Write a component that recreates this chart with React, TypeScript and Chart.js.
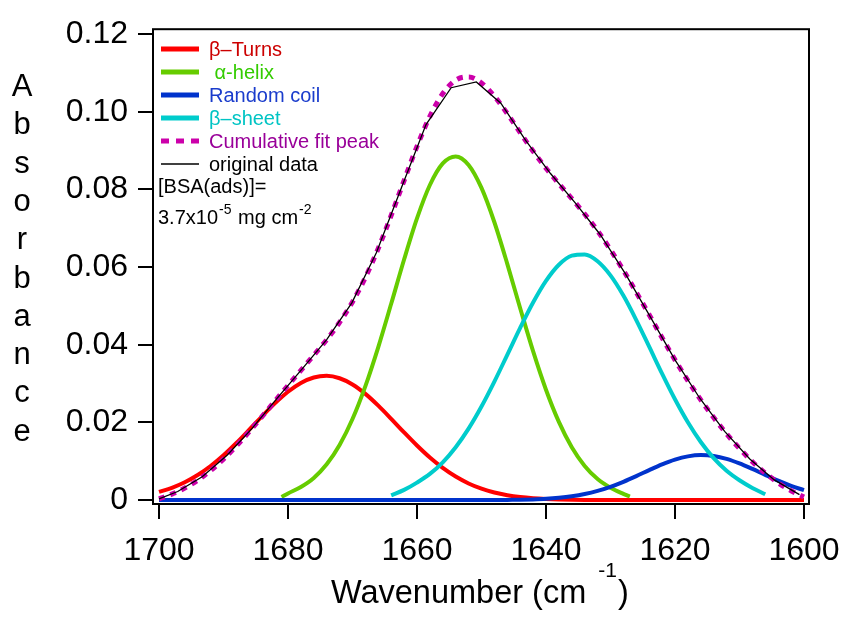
import React, { useEffect, useRef } from "react";
import { Chart, registerables } from "chart.js";

Chart.register(...registerables);

const FONT = '"Liberation Sans", Arial, Helvetica, sans-serif';

// ---------- data ----------
const gridFull = [
  1700, 1698, 1696, 1694, 1692, 1690, 1688, 1686, 1684, 1682, 1680, 1678, 1676,
  1674, 1672, 1670, 1668, 1666, 1664, 1662, 1660, 1658, 1656, 1654, 1652, 1650,
  1648, 1646, 1644, 1642, 1640, 1638, 1636, 1634, 1632, 1630, 1628, 1626, 1624,
  1622, 1620, 1618, 1616, 1614, 1612, 1610, 1608, 1606, 1604, 1602, 1600,
];

const betaTurns = [
  0.00212, 0.00317, 0.0046, 0.00646, 0.00878, 0.01155, 0.01471, 0.01813, 0.02162,
  0.02496, 0.0279, 0.03017, 0.03158, 0.03199, 0.03137, 0.02978, 0.02735, 0.02432,
  0.02093, 0.01743, 0.01405, 0.01096, 0.00828, 0.00605, 0.00428, 0.00293, 0.00194,
  0.00125, 0.00077, 0.00046, 0.00027, 0.00015, 0.00008, 0.00004, 0.00002, 0, 0, 0,
  0, 0, 0, 0, 0, 0, 0, 0, 0, 0, 0, 0, 0,
];

const randomCoil = [
  0, 0, 0, 0, 0, 0, 0, 0, 0, 0, 0, 0, 0, 0, 0, 0, 0, 0, 0, 0, 0, 0, 0, 0, 0, 0, 0,
  0.00005, 0.00009, 0.00018, 0.00033, 0.00059, 0.00098, 0.00156, 0.00237, 0.00342,
  0.00471, 0.00617, 0.00772, 0.00919, 0.01042, 0.01126, 0.0116, 0.01137, 0.01063,
  0.00946, 0.00802, 0.00648, 0.00499, 0.00366, 0.00255,
];

const helixX = [
  1681, 1680, 1678, 1676, 1674, 1672, 1670, 1668, 1666, 1664, 1662, 1660, 1658,
  1656, 1654, 1652, 1650, 1648, 1646, 1644, 1642, 1640, 1638, 1636, 1634, 1632,
  1630, 1628, 1627,
];
const alphaHelix = [
  0.0008, 0.0017, 0.00338, 0.00571, 0.00921, 0.01419, 0.02087, 0.02935, 0.03941,
  0.05055, 0.06195, 0.07254, 0.08114, 0.0867, 0.0885, 0.0863, 0.08039, 0.07155,
  0.06083, 0.04941, 0.03834, 0.02842, 0.02013, 0.01361, 0.0088, 0.00543, 0.0032,
  0.0016, 0.0009,
];

const sheetX = [
  1664, 1662, 1660, 1658, 1656, 1654, 1652, 1650, 1648, 1646, 1644, 1642, 1640,
  1638, 1636, 1634, 1632, 1630, 1628, 1626, 1624, 1622, 1620, 1618, 1616, 1614,
  1612, 1610, 1608, 1606,
];
const betaSheet = [
  0.0012, 0.00262, 0.0045, 0.00673, 0.00972, 0.01361, 0.01841, 0.0241, 0.03052,
  0.03741, 0.04435, 0.05087, 0.05645, 0.06061, 0.06296, 0.06327, 0.06152, 0.05787,
  0.05267, 0.04637, 0.03951, 0.03256, 0.02596, 0.02003, 0.01495, 0.01079, 0.00754,
  0.0051, 0.00313, 0.0015,
];

const cumulativeFit = [
  0.00032, 0.00152, 0.0031, 0.00511, 0.00761, 0.01055, 0.01393, 0.01764, 0.02155,
  0.02555, 0.02952, 0.0334, 0.03731, 0.0413, 0.04576, 0.05102, 0.05735, 0.06483,
  0.07331, 0.0823, 0.09109, 0.09883, 0.1047, 0.10816, 0.10899, 0.10742, 0.10401,
  0.09954, 0.09462, 0.08985, 0.08547, 0.08148, 0.07763, 0.07367, 0.06932, 0.06449,
  0.05918, 0.05351, 0.04773, 0.04181, 0.03611, 0.03074, 0.02582, 0.02124, 0.01707,
  0.01328, 0.00988, 0.00694, 0.00445, 0.0024, 0.00079,
];

const originalX = [
  1700.0, 1697.1, 1693.3, 1689.4, 1685.6, 1681.7, 1677.8, 1674.0, 1670.1, 1666.3,
  1662.4, 1658.6, 1654.7, 1650.8, 1647.0, 1643.1, 1639.3, 1635.4, 1631.6, 1627.7,
  1623.8, 1620.0, 1616.1, 1612.3, 1608.4, 1604.6, 1600.7,
];
const originalData = [
  0.0003, 0.0022, 0.006, 0.0116, 0.0184, 0.0262, 0.0338, 0.0413, 0.0508, 0.0637,
  0.0805, 0.0967, 0.1062, 0.1077, 0.1022, 0.0925, 0.0841, 0.0764, 0.0684, 0.0583,
  0.0471, 0.0361, 0.0261, 0.0177, 0.0106, 0.0052, 0.0014,
];

const xTicks = [1600, 1620, 1640, 1660, 1680, 1700];
const xTickLabels = ["1600", "1620", "1640", "1660", "1680", "1700"];
const yTicks = [0, 0.02, 0.04, 0.06, 0.08, 0.1, 0.12];
const yTickLabels = ["0", "0.02", "0.04", "0.06", "0.08", "0.10", "0.12"];

const legendLabels = [
  "β–Turns",
  " α-helix",
  "Random coil",
  "β–sheet",
  "Cumulative fit peak",
  "original data",
];
const noteLine1 = "[BSA(ads)]=";
const noteLine2 = ["3.7x10", "-5", " mg cm", "-2"];
const xTitle = ["Wavenumber (cm", "-1", ")"];
const yTitle = "Absorbance";

// ---------- styles ----------
const LINE_COLORS = ["#ff0000", "#66cc00", "#0033cc", "#00cccc", "#cc00aa", "#000000"];
const TEXT_COLORS = ["#cc0000", "#33cc00", "#1a3ccc", "#00c4c4", "#990099", "#000000"];

const pairs = (xs: number[], ys: number[]) => xs.map((x, i) => ({ x, y: ys[i] }));

const framePlugin = {
  id: "frame",
  afterDraw(chart: any) {
    const { ctx, chartArea } = chart;
    ctx.save();
    ctx.strokeStyle = "#000";
    ctx.lineWidth = 2;
    ctx.strokeRect(chartArea.left, chartArea.top, chartArea.right - chartArea.left, chartArea.bottom - chartArea.top);
    ctx.restore();
  },
};

const textPlugin = {
  id: "texts",
  afterDraw(chart: any) {
    const ctx = chart.ctx as CanvasRenderingContext2D;
    ctx.save();
    // legend
    const lx1 = 161;
    const lx2 = 199;
    const ly0 = 49;
    const step = 23;
    legendLabels.forEach((lab, i) => {
      const y = ly0 + i * step;
      ctx.beginPath();
      ctx.strokeStyle = LINE_COLORS[i];
      ctx.lineCap = "butt";
      if (i === 4) {
        ctx.lineWidth = 5;
        ctx.setLineDash([8, 7]);
      } else if (i === 5) {
        ctx.lineWidth = 1.3;
        ctx.setLineDash([]);
      } else {
        ctx.lineWidth = 5;
        ctx.setLineDash([]);
      }
      ctx.moveTo(lx1, y);
      ctx.lineTo(lx2, y);
      ctx.stroke();
      ctx.setLineDash([]);
      ctx.font = `20px ${FONT}`;
      ctx.fillStyle = TEXT_COLORS[i];
      ctx.textAlign = "left";
      ctx.textBaseline = "alphabetic";
      ctx.fillText(lab, 209, y + 7);
    });
    // note
    ctx.fillStyle = "#000";
    ctx.font = `20px ${FONT}`;
    ctx.fillText(noteLine1, 158, 193);
    let nx = 158;
    const nb = 224;
    noteLine2.forEach((part, i) => {
      const sup = i % 2 === 1;
      ctx.font = sup ? `14px ${FONT}` : `20px ${FONT}`;
      ctx.fillText(part, nx, sup ? nb - 10 : nb);
      nx += ctx.measureText(part).width + 1;
    });

    // x title
    ctx.fillStyle = "#000";
    ctx.font = `32.5px ${FONT}`;
    const x0 = 331;
    const base = 603;
    ctx.fillText(xTitle[0], x0, base);
    const w = ctx.measureText(xTitle[0]).width;
    ctx.font = `21px ${FONT}`;
    const supX = x0 + w + 12;
    ctx.fillText(xTitle[1], supX, base - 26);
    const w2 = ctx.measureText(xTitle[1]).width;
    ctx.font = `32.5px ${FONT}`;
    ctx.fillText(xTitle[2], supX + w2 + 1, base);

    // y title (stacked letters)
    ctx.font = `31px ${FONT}`;
    ctx.textAlign = "center";
    yTitle.split("").forEach((ch, i) => {
      ctx.fillText(ch, 22, 96 + i * 38.3);
    });
    ctx.restore();
  },
};

export default function App() {
  const ref = useRef<HTMLCanvasElement | null>(null);

  useEffect(() => {
    if (!ref.current) return;
    const common = { pointRadius: 0, fill: false, borderCapStyle: "butt" as const };
    const chart = new Chart(ref.current, {
      type: "line",
      data: {
        datasets: [
          {
            label: legendLabels[5],
            data: pairs(originalX, originalData),
            borderColor: LINE_COLORS[5],
            borderWidth: 1.3,
            tension: 0,
            order: 0,
            ...common,
          },
          {
            label: legendLabels[4],
            data: pairs(gridFull, cumulativeFit),
            borderColor: LINE_COLORS[4],
            borderWidth: 5,
            borderDash: [6, 6],
            cubicInterpolationMode: "monotone",
            order: 1,
            ...common,
          },
          {
            label: legendLabels[3],
            data: pairs(sheetX, betaSheet),
            borderColor: LINE_COLORS[3],
            borderWidth: 4,
            cubicInterpolationMode: "monotone",
            order: 2,
            ...common,
          },
          {
            label: legendLabels[2],
            data: pairs(gridFull, randomCoil),
            borderColor: LINE_COLORS[2],
            borderWidth: 4,
            cubicInterpolationMode: "monotone",
            order: 3,
            ...common,
          },
          {
            label: legendLabels[1],
            data: pairs(helixX, alphaHelix),
            borderColor: LINE_COLORS[1],
            borderWidth: 4,
            cubicInterpolationMode: "monotone",
            order: 4,
            ...common,
          },
          {
            label: legendLabels[0],
            data: pairs(gridFull, betaTurns),
            borderColor: LINE_COLORS[0],
            borderWidth: 4,
            cubicInterpolationMode: "monotone",
            order: 5,
            ...common,
          },
        ],
      },
      options: {
        animation: false,
        responsive: false,
        devicePixelRatio: 1,
        layout: { padding: { top: 22, right: 38, bottom: 0, left: 0 } },
        plugins: {
          legend: { display: false },
          tooltip: { enabled: false },
          title: { display: false },
        },
        scales: {
          x: {
            type: "linear",
            reverse: true,
            min: 1599.22,
            max: 1700.93,
            afterBuildTicks: (scale: any) => {
              scale.ticks = xTicks.map((v) => ({ value: v }));
            },
            afterFit: (scale: any) => {
              scale.height = 117;
            },
            ticks: {
              autoSkip: false,
              maxRotation: 0,
              minRotation: 0,
              padding: 13,
              color: "#000",
              font: { family: FONT, size: 32 },
              callback: (v: any) => {
                const i = xTicks.indexOf(Number(v));
                return i >= 0 ? xTickLabels[i] : "";
              },
            },
            grid: {
              drawOnChartArea: false,
              drawTicks: true,
              tickLength: 15,
              color: "#000",
              lineWidth: 2,
            },
            border: { display: false },
          },
          y: {
            type: "linear",
            min: -0.00101,
            max: 0.12127,
            afterBuildTicks: (scale: any) => {
              scale.ticks = yTicks.map((v) => ({ value: v }));
            },
            afterFit: (scale: any) => {
              scale.width = 153;
            },
            ticks: {
              autoSkip: false,
              padding: 10,
              color: "#000",
              font: { family: FONT, size: 32 },
              callback: (v: any) => {
                const i = yTicks.findIndex((t) => Math.abs(t - Number(v)) < 1e-9);
                return i >= 0 ? yTickLabels[i] : "";
              },
            },
            grid: {
              drawOnChartArea: false,
              drawTicks: true,
              tickLength: 15,
              color: "#000",
              lineWidth: 2,
            },
            border: { display: false },
          },
        },
      },
      plugins: [framePlugin, textPlugin],
    } as any);
    return () => chart.destroy();
  }, []);

  return (
    <div style={{ position: "absolute", left: 0, top: 0, width: 847, height: 621, background: "#fff" }}>
      <canvas ref={ref} width={847} height={621} style={{ display: "block" }} />
    </div>
  );
}
